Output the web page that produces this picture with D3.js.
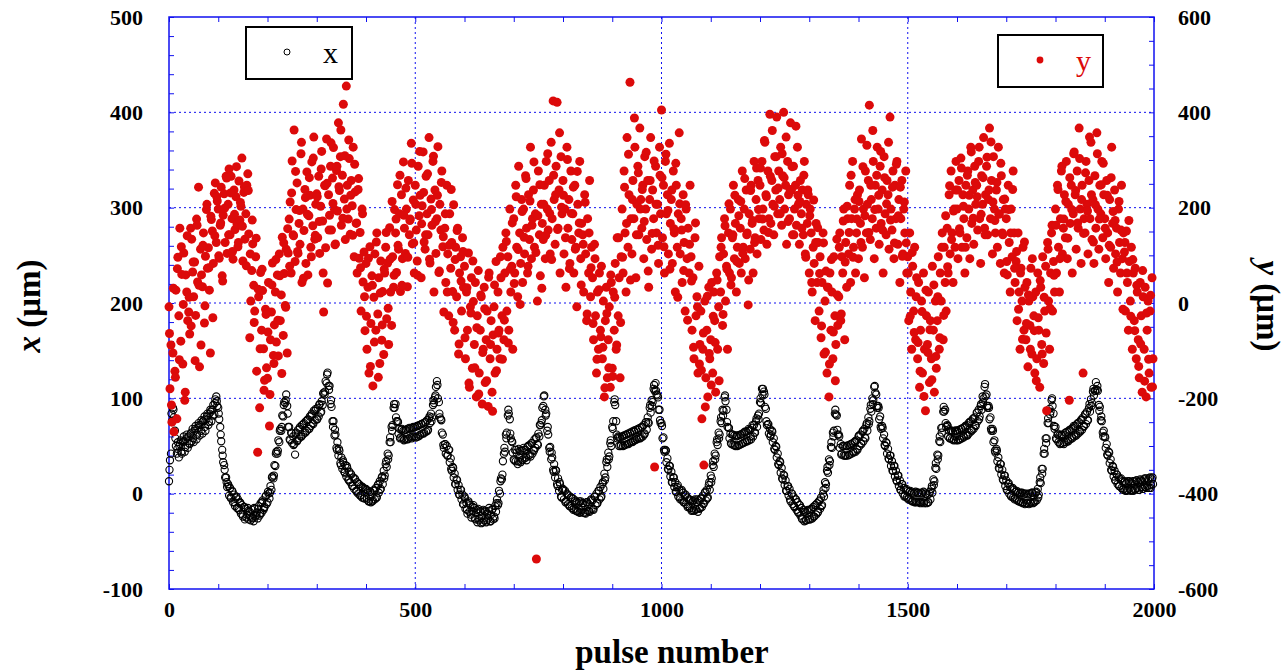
<!DOCTYPE html>
<html><head><meta charset="utf-8">
<script src="https://cdn.jsdelivr.net/npm/d3@7"></script>
<style>body{margin:0;background:#fff}svg{display:block}</style>
</head><body><svg id="c" width="1288" height="670"></svg>
<script>
// main samples: pulse = i * pulseStep ; extra samples: pulse = extraStart + i * extraStep
const pulseStep = 2, extraStart = 1, extraStep = 4;

// x position (µm), left axis, pulses 0..1998 in chunks of 200 pulses
const xVals0000 = [13,35,42,76,90,80,66,50,42,54, 38,52,56,42,54,60,44,57,62,48, 60,52,63,55,68,54,66,71,57,69, 74,61,72,77,63,76,81,66,78,84, 72,84,88,76,88,93,83,99,102,92, 90,78,70,55,46,33,30,17,17,7, 10,-2,6,-5,3,-9,-1,-13,-4,-15, -6,-17,-9,-21,-12,-24,-14,-27,-16,-22, -15,-27,-19,-28,-17,-25,-29,-16,-24,-20, -26,-13,-23,-10,-20,-7,-17,-14,-3,-11];
const xVals0200 = [-9,0,-5,8,4,18,16,30,29,44, 42,56,54,68,66,82,81,96,95,104, 92,70,70,56,64,53,60,52,41,64, 55,67,58,70,60,72,62,74,64,76, 66,78,68,81,71,84,74,87,77,89, 78,90,81,94,85,97,93,106,104,118, 116,127,113,113,94,91,76,76,61,62, 48,54,40,45,32,38,26,33,23,30, 18,27,15,23,12,20,8,17,5,15, 3,12,0,10,-2,8,-4,6,-5,5];
const xVals0400 = [5,-6,3,-8,2,-9,-1,-7,4,-6, 6,-4,9,1,13,5,17,10,24,19, 31,28,42,40,54,54,70,72,90,90, 94,76,76,63,68,59,67,58,66,57, 67,57,68,58,69,59,69,60,70,60, 70,59,71,60,72,62,73,63,74,64, 75,65,77,67,79,74,84,80,93,95, 101,112,118,100,96,80,78,64,62,48, 52,42,50,40,46,33,37,24,28,17, 21,10,15,4,9,-1,4,-6,-1,-11];
const xVals0600 = [-3,-16,-10,-21,-8,-19,-12,-25,-18,-12, -15,-27,-20,-30,-16,-26,-18,-31,-23,-17, -28,-19,-30,-21,-26,-15,-29,-22,-17,-27, -24,-13,-19,-6,-12,3,0,16,15,34, 42,44,62,64,82,84,78,58,55,43, 36,46,34,43,31,47,38,33,45,36, 48,37,46,35,49,40,51,39,53,42, 46,57,48,59,52,63,60,72,74,90, 92,103,88,84,66,62,48,49,36,38, 25,31,17,24,10,16,3,10,-3,4];
const xVals0800 = [5,-6,3,-8,0,-11,-2,-13,-4,-15, -5,-16,-8,-18,-9,-19,-10,-20,-8,-17, -10,-20,-12,-21,-9,-18,-11,-19,-7,-16, -7,-17,-3,-12,0,-10,3,-6,7,-3, 10,5,21,17,33,28,43,39,53,50, 70,76,96,93,76,58,60,50,59,51, 60,50,61,51,62,52,63,53,64,54, 65,55,66,56,67,57,68,58,69,59, 70,60,72,63,75,67,80,74,90,85, 98,96,110,108,116,104,103,88,88,74];
const xVals1000 = [74,58,59,44,46,33,37,25,29,18, 23,12,17,7,12,2,7,-3,4,-6, 3,-7,1,-9,-2,-11,-4,-13,-6,-15, -7,-17,-8,-18,-6,-16,-9,-19,-7,-15, -5,-14,-2,-10,1,-7,4,-4,9,4, 19,16,30,28,42,40,54,51,64,62, 76,74,88,87,101,97,88,70,69,58, 63,52,62,51,61,50,60,50,61,51, 62,52,63,53,64,54,65,55,66,56, 67,57,69,60,72,64,76,70,82,84];
const xVals1200 = [96,95,110,110,107,91,89,72,73,63, 68,62,66,54,58,46,50,38,42,30, 34,22,27,15,20,9,14,3,8,-2, 5,-8,0,-11,-3,-14,-6,-17,-9,-20, -12,-23,-15,-27,-17,-29,-19,-28,-18,-27, -17,-27,-16,-26,-14,-24,-12,-22,-10,-19, -8,-16,-4,-12,0,-3,12,10,24,22, 36,34,49,48,64,66,84,83,82,62, 62,48,52,42,50,40,50,40,50,40, 51,41,52,42,53,43,54,44,56,46];
const xVals1400 = [60,50,62,52,65,55,68,58,72,66, 80,76,89,86,100,98,112,106,104,90, 92,78,81,68,71,58,62,50,54,42, 47,36,40,29,34,24,29,18,24,13, 19,8,14,4,10,0,6,-2,4,-4, 3,-5,2,-7,1,-8,0,-9,2,-8, 1,-9,0,-10,1,-9,2,-8,0,-10, -1,-9,0,-6,5,1,15,13,27,26, 41,40,55,54,69,69,86,86,88,70, 72,60,66,58,66,57,65,57,66,56];
const xVals1600 = [66,56,67,57,68,58,69,59,70,61, 72,62,74,64,76,66,78,68,80,71, 85,76,88,81,92,88,102,100,112,102, 104,90,92,78,80,66,68,54,56,43, 47,34,38,26,31,20,25,14,19,8, 14,4,10,0,7,-3,5,-4,4,-5, 2,-7,1,-8,0,-9,1,-10,-1,-11, 0,-10,-1,-11,0,-9,1,-10,-2,-8, 1,-7,5,-1,12,11,26,26,42,42, 58,58,74,74,89,86,98,92,84,68];
const xVals1800 = [70,57,62,54,61,53,61,53,62,54, 64,54,65,55,66,57,68,58,69,60, 71,61,73,63,75,65,77,67,80,71, 83,73,86,77,90,86,99,95,107,103, 108,117,109,108,93,91,77,76,64,66, 60,48,52,40,44,32,36,24,29,18, 24,14,20,10,17,8,15,6,13,5, 12,3,11,4,13,5,12,4,11,3, 13,5,14,6,12,4,15,7,13,5, 15,7,16,8,14,6,17,9,15,10];
// x position, extra samples (pulses 1,5,9,...), chunks of 200 pulses
const xExtra0000 = [25,84,88,58,47,50,44,55,49,59, 53,64,58,68,62,72,66,76,70,81, 75,86,82,95,97,84,62,40,25,12, 8,-4,2,-9,-3,-15,-10,-22,-14,-25, -18,-23,-26,-15,-22,-16,-21,-9,-15,-2];
const xExtra0200 = [2,1,17,19,42,45,66,70,93,98, 84,57,63,51,63,56,68,60,73,64, 77,68,82,73,87,78,93,86,105,107, 125,109,98,70,67,46,47,30,35,22, 29,14,21,8,16,2,10,-2,7,-5];
const xExtra0400 = [4,-8,2,-8,3,-4,10,4,18,16, 34,36,59,66,94,80,75,58,68,56, 67,57,68,58,69,59,71,61,73,63, 75,66,81,76,98,103,114,84,77,51, 52,40,46,26,27,10,14,-1,4,-11];
const xExtra0600 = [-5,-17,-10,-22,-14,-26,-17,-28,-19,-30, -18,-28,-18,-29,-16,-26,-10,-10,13,20, 48,58,88,63,54,35,46,34,45,35, 46,38,50,41,53,45,58,51,72,77, 102,82,70,44,43,23,25,8,12,-4];
const xExtra0800 = [4,-9,-1,-13,-4,-17,-7,-18,-8,-19, -10,-20,-9,-18,-6,-16,-3,-10,3,-4, 12,14,36,36,56,68,99,62,59,50, 60,51,62,52,63,54,65,57,67,58, 70,62,75,75,93,92,114,108,101,77];
const xExtra1000 = [71,46,45,26,29,12,17,2,9,-4, 4,-9,-1,-14,-6,-18,-7,-17,-6,-16, -5,-11,2,-5,12,12,34,36,57,58, 80,82,103,75,69,53,62,51,61,51, 62,53,65,56,68,60,72,64,79,78];
const xExtra1200 = [100,104,104,76,73,60,65,47,49,31, 33,16,19,3,8,-6,0,-13,-6,-19, -12,-26,-19,-28,-17,-27,-16,-24,-12,-20, -7,-13,4,6,28,30,54,60,88,67, 60,41,50,40,50,41,52,44,55,47];
const xExtra1400 = [61,53,66,59,74,73,93,94,113,92, 90,70,69,51,53,37,40,24,29,14, 19,4,10,-3,5,-6,3,-8,1,-9, 1,-9,0,-10,0,-9,2,8,9,32, 36,60,64,91,74,71,58,66,56,66];
const xExtra1600 = [65,57,68,60,71,61,75,67,79,72, 85,78,94,96,115,92,90,68,66,45, 45,27,31,15,19,4,11,-2,6,-6, 3,-8,1,-9,0,-10,0,-10,1,-9, 2,-4,17,21,47,53,79,83,100,71];
const xExtra1800 = [58,63,52,62,52,64,56,67,59,71, 62,74,66,78,70,84,77,94,92,110, 108,113,87,81,60,59,41,43,25,28, 14,20,8,16,4,13,3,13,3,13, 4,14,4,14,5,16,6,16,6,17];

// y position (µm), right axis, same pulses
const yVals0000 = [-8,-180,-88,-250,-105,-270,-143,27,-243,96, -27,157,-80,60,-128,105,-204,59,23,-37, -19,-65,157,134,65,13,86,-26,176,44, 243,-134,113,59,34,147,-42,98,196,73, 116,27,-105,175,151,83,230,252,127,214, 197,94,163,243,57,184,229,127,266,104, 207,281,143,266,177,92,237,154,223,166, 118,256,174,203,304,88,232,134,187,247, 271,145,-73,4,68,124,37,-17,97,-143, -313,13,-220,64,-57,26,-96,-162,-13,-136];
const yVals0200 = [-158,43,-258,-77,-19,84,-110,-46,23,-82, 59,-111,103,-37,17,138,-68,62,-5,113, -105,105,176,212,63,298,143,363,87,196, 252,104,167,123,313,43,197,152,238,83, 275,59,183,226,117,296,162,348,134,207, 229,137,266,104,203,318,172,-19,247,116, 344,42,227,184,287,153,262,326,196,124, 278,193,378,236,307,163,268,417,218,133, 455,247,176,303,144,257,204,327,97,233, 167,63,238,94,148,-17,197,44,107,-58];
const yVals0400 = [83,-97,33,-147,118,-43,57,-174,12,103, -57,147,-23,53,-127,88,-78,24,-108,63, 117,-33,84,-87,158,23,-47,97,33,196, 147,64,248,113,187,24,227,93,296,157, 104,197,34,257,143,176,335,124,216,63, 247,153,88,287,183,226,53,204,317,128, 113,266,187,143,347,84,218,163,297,23, 237,104,177,328,64,207,153,277,118,-19, 157,43,247,103,-27,187,73,127,24,206, -57,117,13,157,-107,63,97,-17,137,33];
const yVals0600 = [77,-117,23,-57,105,-177,-8,53,-137,3, -87,43,-197,-27,68,-147,-57,13,-212,-97, 33,-167,-77,-17,-217,63,-117,-37,-187,-67, -8,-147,87,-97,23,-57,-117,53,-27,117, -77,63,147,-17,97,-57,197,23,77,-97, 177,63,247,117,13,287,147,83,217,43, 197,103,267,157,63,227,133,327,93,177, 237,117,187,-537,4,277,143,57,207,167, 133,247,93,297,197,153,257,103,337,177, 424,217,123,287,421,157,237,63,307,187];
const yVals0800 = [257,103,197,33,327,157,217,83,277,133, 187,63,247,117,-8,207,147,297,93,167, 143,23,227,103,-37,177,63,257,13,117, 53,-77,123,-27,-147,23,-97,63,-57,77, -117,4,-197,-37,33,-157,-77,-8,-177,43, -137,23,-57,83,-97,137,-27,53,-157,97, 197,63,277,147,23,347,117,227,463,177, 103,257,177,327,53,207,287,143,367,217, 157,247,93,307,197,133,257,33,217,347, 113,237,177,-344,287,147,207,83,327,187];
const yVals1000 = [405,137,247,63,297,187,227,103,335,167, 217,83,277,147,23,247,117,187,357,103, 177,43,227,127,-17,197,93,157,63,247, 97,-57,53,-117,137,-27,13,-147,77,-87, -17,-243,-97,-340,4,-157,-57,-197,33,-117, -77,43,-147,23,-37,-187,63,-97,-8,97, 23,137,-47,103,177,4,77,-97,147,63, 197,53,137,247,93,167,23,117,217,83, 157,63,277,117,197,93,237,147,-4,187, 113,247,167,63,297,137,217,103,257,177];
const yVals1200 = [247,133,297,197,153,337,227,123,277,177, 396,167,257,207,143,307,237,390,187,277, 217,327,163,267,400,197,247,123,297,227, 177,378,237,143,287,197,247,163,327,207, 123,257,187,237,143,297,103,207,167,227, 63,197,147,23,117,83,-37,167,43,127, -17,97,-73,43,147,-107,4,67,-147,33, -197,63,-57,23,-117,97,-27,-87,134,-47, 13,147,-37,97,63,197,-77,127,33,177, 103,247,43,177,297,117,197,63,147,227];
const yVals1400 = [93,237,167,344,117,197,53,277,147,207, 257,415,133,217,177,297,93,247,157,327, 197,123,287,167,237,63,307,187,143,257, 227,113,390,197,153,277,93,247,177,297, 123,217,43,177,257,103,197,147,277,63, 97,-37,147,23,-97,77,-17,117,-77,53, -117,43,-177,-57,4,-147,63,-97,-226,-27, -87,23,-167,-37,-117,77,-57,-187,4,-137, -37,97,-97,63,4,147,-77,117,43,-17, 157,63,227,103,277,147,43,197,117,297];
const yVals1600 = [197,93,257,147,304,117,227,177,63,247, 137,277,197,93,327,167,237,123,287,207, 247,153,297,177,83,267,207,347,157,227, 287,143,217,367,177,257,103,307,197,147, 237,117,327,187,83,267,147,217,63,197, 177,59,247,127,23,197,97,277,147,43, 87,-37,147,23,-97,73,4,117,-57,33, -77,43,-134,4,-47,73,-107,13,-27,-147, 23,-117,63,-57,-177,33,-87,97,-127,-17, 77,-226,127,4,-97,63,147,-17,87,23];
const yVals1800 = [197,63,247,117,23,177,277,103,157,227, 137,297,93,207,-204,167,247,63,187,317, 227,113,277,157,367,197,83,247,-147,177, 147,297,207,103,257,177,337,133,217,83, 267,157,357,197,113,247,187,297,137,227, 177,93,257,147,43,217,117,327,167,73, 237,103,157,23,197,127,63,247,93,147, 107,-17,151,43,-57,87,4,117,-97,63, -37,73,-117,23,-77,-157,43,-27,-187,13, -97,33,-197,-57,4,-147,-17,-177,53,-117];
// y position, extra samples (pulses 1,5,9,...)
const yExtra0000 = [-64,-214,31,-156,72, -119,118,-3,-187,141, 12,-48,86,-121,163, 37,-88,121,-6,207, 74,182,-31,141,223, 99,168,46,199,262, 143,231,108,186,286, 127,211,161,244,78, 236,103,174,-41,136, 29,-96,71,-183,-24];
const yExtra0200 = [-61,-192,38,-127,91, -36,57,-148,126,-9, 156,77,231,141,276, 108,194,337,52,221, 186,263,97,304,142, 223,171,281,63,246, 251,153,336,209,122, 287,244,363,178,309, 197,342,226,142,291, 168,261,74,187,13];
const yExtra0400 = [-28,94,-133,37,-82, 128,-156,21,-46,71, 148,-11,92,213,58, 176,121,268,37,184, 241,96,173,293,126, 207,58,318,166,232, 143,271,92,196,308, 171,226,67,253,139, 187,23,121,238,-41, 91,152,-86,46,108];
const yExtra0600 = [-73,32,-168,-21,88, -136,-52,-191,17,-104, -12,-163,54,-87,-227, 38,-142,-63,97,-118, -36,129,-84,71,168, 41,223,112,-3,192, 138,261,77,214,163, 296,106,183,248,31, 207,142,313,188,91, 268,227,154,357,201];
const yExtra0800 = [226,137,301,72,188, 243,113,276,168,38, 123,211,-23,147,74, -43,93,-118,28,-71, -93,-178,-22,-136,59, -154,12,-88,137,-41, 96,243,167,312,48, 217,388,143,273,197, 238,171,316,67,257, 146,298,207,121,268];
const yExtra1000 = [263,118,312,194,71, 237,156,293,12,208, 153,68,206,-36,123, 46,-93,168,-8,-128, -141,-63,-218,14,-106, -172,-28,-83,48,-163, 117,-24,162,71,208, 38,143,226,87,183, 213,104,261,143,48, 236,173,127,283,196];
const yExtra1200 = [283,176,341,223,148, 266,362,203,307,241, 187,313,263,348,171, 238,286,143,371,226, 213,157,268,96,237, 183,43,216,127,158, 62,-48,126,-103,33, -128,91,-61,-163,17, 117,-23,172,86,203, 148,268,96,217,176];
const yExtra1400 = [213,127,286,183,331, 148,247,362,196,268, 226,318,153,263,208, 337,174,243,126,291, 183,243,98,212,126, 63,-28,106,-62,13, -83,-143,-18,-196,27, -104,-56,-161,38,-112, 13,-73,117,-26,183, 76,246,133,193,237];
const yExtra1600 = [237,156,283,203,117, 268,226,317,178,253, 223,327,186,263,143, 306,237,338,212,173, 253,186,293,143,218, 87,196,147,238,73, 108,-13,63,-76,128, -43,17,-97,93,-58, -163,-31,47,-107,12, -63,113,-11,163,58];
const yExtra1800 = [163,238,93,287,176, 213,136,263,196,313, 236,168,303,217,146, 273,193,348,227,128, 206,313,176,248,293, 157,226,121,263,192, 173,86,213,153,-13, 127,63,173,-28,91, -58,37,-133,-86,68, -164,-21,-118,16,-176];

const pulseTicks = [0, 500, 1000, 1500, 2000];
const leftTicks = [-100, 0, 100, 200, 300, 400, 500];
const rightTicks = [-600, -400, -200, 0, 200, 400, 600];
const legendLabels = ["x", "y"];

const xMain = [].concat(xVals0000,xVals0200,xVals0400,xVals0600,xVals0800,xVals1000,xVals1200,xVals1400,xVals1600,xVals1800);
const yMain = [].concat(yVals0000,yVals0200,yVals0400,yVals0600,yVals0800,yVals1000,yVals1200,yVals1400,yVals1600,yVals1800);
const xExtra = [].concat(xExtra0000,xExtra0200,xExtra0400,xExtra0600,xExtra0800,xExtra1000,xExtra1200,xExtra1400,xExtra1600,xExtra1800);
const yExtra = [].concat(yExtra0000,yExtra0200,yExtra0400,yExtra0600,yExtra0800,yExtra1000,yExtra1200,yExtra1400,yExtra1600,yExtra1800);
const toPts = (main, extra) => main.map((v,i)=>({p:i*pulseStep, v}))
  .concat(extra.map((v,i)=>({p:extraStart+i*extraStep, v})));
const xPts = toPts(xMain, xExtra);
const yPts = toPts(yMain, yExtra);

const svg = d3.select('#c');
const M = {l:169, r:1154, t:17, b:589};
const X = d3.scaleLinear().domain([0,2000]).range([M.l,M.r]);
const YL = d3.scaleLinear().domain([-100,500]).range([M.b,M.t]);
const YR = d3.scaleLinear().domain([-600,600]).range([M.b,M.t]);
const BLUE = '#1010f0';
const RED = '#dc0a0a';
const SERIF = '"Liberation Serif","DejaVu Serif",serif';

svg.append('rect').attr('width',1288).attr('height',670).attr('fill','#fff');

// grid
const grid = svg.append('g').attr('stroke',BLUE).attr('stroke-width',1).attr('stroke-dasharray','2,3');
grid.selectAll('.gx').data(pulseTicks.slice(1,-1)).join('line')
  .attr('x1',d=>X(d)).attr('x2',d=>X(d)).attr('y1',M.t).attr('y2',M.b);
grid.selectAll('.gy').data(leftTicks.slice(1,-1)).join('line')
  .attr('y1',d=>YL(d)).attr('y2',d=>YL(d)).attr('x1',M.l).attr('x2',M.r);

// axes
function styleAxis(g){
  g.selectAll('.domain').remove();
  g.selectAll('.tick line').attr('stroke',BLUE).attr('stroke-width',1);
  g.selectAll('.tick text').attr('font-family',SERIF).attr('font-weight','bold').attr('font-size',22).attr('fill','#000');
}
const minorX = d3.range(0,2001,100);
svg.append('g').attr('transform',`translate(0,${M.b})`)
  .call(d3.axisBottom(X).tickValues(minorX).tickSize(-5).tickPadding(12)
    .tickFormat(d=>pulseTicks.includes(d)?d:''))
  .call(styleAxis);
svg.append('g').attr('transform',`translate(0,${M.t})`)
  .call(d3.axisTop(X).tickValues(minorX).tickSize(-5).tickFormat(''))
  .call(styleAxis);
svg.append('g').attr('transform',`translate(${M.l},0)`)
  .call(d3.axisLeft(YL).tickValues(d3.range(-100,501,20)).tickSize(-5).tickPadding(26)
    .tickFormat(d=>leftTicks.includes(d)?d:''))
  .call(styleAxis);
svg.append('g').attr('transform',`translate(${M.r},0)`)
  .call(d3.axisRight(YR).tickValues(d3.range(-600,601,50)).tickSize(-5).tickPadding(24)
    .tickFormat(d=>rightTicks.includes(d)?d:''))
  .call(styleAxis);

// frame
svg.append('rect').attr('x',M.l).attr('y',M.t).attr('width',M.r-M.l).attr('height',M.b-M.t)
  .attr('fill','none').attr('stroke',BLUE).attr('stroke-width',1.5);

// data
svg.append('g').selectAll('circle').data(xPts).join('circle')
  .attr('cx',d=>X(d.p)).attr('cy',d=>YL(d.v)).attr('r',3.6)
  .attr('fill','none').attr('stroke','#000').attr('stroke-width',1.1);
svg.append('g').selectAll('circle').data(yPts).join('circle')
  .attr('cx',d=>X(d.p)).attr('cy',d=>YR(d.v)).attr('r',4.5)
  .attr('fill',RED);

// legends
const lg1 = svg.append('g');
lg1.append('rect').attr('x',246).attr('y',27).attr('width',106).attr('height',52).attr('fill','#fff').attr('stroke','#000').attr('stroke-width',2);
lg1.append('circle').attr('cx',287).attr('cy',52).attr('r',3).attr('fill','none').attr('stroke','#000');
lg1.append('text').attr('x',323).attr('y',63).text(legendLabels[0]).attr('font-family',SERIF).attr('font-size',30).attr('fill','#000');
const lg2 = svg.append('g');
lg2.append('rect').attr('x',998).attr('y',35).attr('width',105).attr('height',52).attr('fill','#fff').attr('stroke','#000').attr('stroke-width',2);
lg2.append('circle').attr('cx',1040).attr('cy',60).attr('r',3.4).attr('fill',RED);
lg2.append('text').attr('x',1076).attr('y',71).text(legendLabels[1]).attr('font-family',SERIF).attr('font-size',30).attr('fill',RED);

// axis titles
const t1 = svg.append('text').attr('transform','translate(40,306) rotate(-90)').attr('text-anchor','middle')
  .attr('font-family',SERIF).attr('font-weight','bold').attr('font-size',33);
t1.append('tspan').attr('font-style','italic').text('x');
t1.append('tspan').text(' (μm)');
const t2 = svg.append('text').attr('transform','translate(1257,306) rotate(90)').attr('text-anchor','middle')
  .attr('font-family',SERIF).attr('font-weight','bold').attr('font-size',33);
t2.append('tspan').attr('font-style','italic').text('y');
t2.append('tspan').text(' (μm)');
svg.append('text').attr('x',672).attr('y',663).attr('text-anchor','middle')
  .attr('font-family',SERIF).attr('font-weight','bold').attr('font-size',33).text('pulse number');
</script></body></html>
